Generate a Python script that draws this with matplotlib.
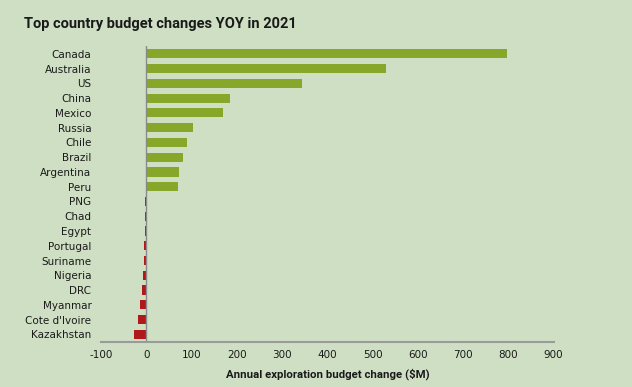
import matplotlib
matplotlib.use("Agg")
import matplotlib.pyplot as plt

countries = ["Canada", "Australia", "US", "China", "Mexico", "Russia", "Chile",
             "Brazil", "Argentina", "Peru", "PNG", "Chad", "Egypt", "Portugal",
             "Suriname", "Nigeria", "DRC", "Myanmar", "Cote d'Ivoire", "Kazakhstan"]
changes = [796, 530, 343, 184, 170, 102, 89, 80, 72, 69,
           -3, -3, -3, -6, -6, -8, -10, -15, -19, -28]
xticks = list(range(-100, 1000, 100))

BG = "#cfdfc4"
GREEN = "#86a729"
RED = "#b0181c"
TITLE_FONT = ["Roboto", "DejaVu Sans"]

fig = plt.figure(figsize=(6.32, 3.87), dpi=100, facecolor=BG)
ax = fig.add_axes([0.160, 0.117, 0.716, 0.763], facecolor=BG)

n = len(countries)
ypos = list(range(n))
colors = [GREEN if v >= 0 else RED for v in changes]
ax.barh(ypos, changes, height=0.62, color=colors)

ax.set_ylim(n - 0.5, -0.5)
ax.set_xlim(-100, 900)
ax.set_xticks(xticks)
ax.set_xticklabels([str(t) for t in xticks])
ax.set_yticks(ypos)
ax.set_yticklabels(countries)
ax.tick_params(axis="both", length=0, labelsize=7.5, colors="#1a1a1a")
ax.tick_params(axis="y", pad=7)
ax.tick_params(axis="x", pad=6)

ax.axvline(0, color="#8a8a8a", linewidth=1.0)
for s in ["top", "right", "left"]:
    ax.spines[s].set_visible(False)
ax.spines["bottom"].set_color("#9a9a9a")
ax.spines["bottom"].set_linewidth(1.5)

ax.set_xlabel("Annual exploration budget change ($M)", fontsize=8.2,
              fontweight="bold", color="#1a1a1a", labelpad=6, family=TITLE_FONT)

fig.text(0.038, 0.938, "Top country budget changes YOY in 2021", fontsize=10.5,
         fontweight="bold", color="#1a1a1a", va="center", ha="left", family=TITLE_FONT)

fig.savefig("out.png", dpi=100, facecolor=BG)
